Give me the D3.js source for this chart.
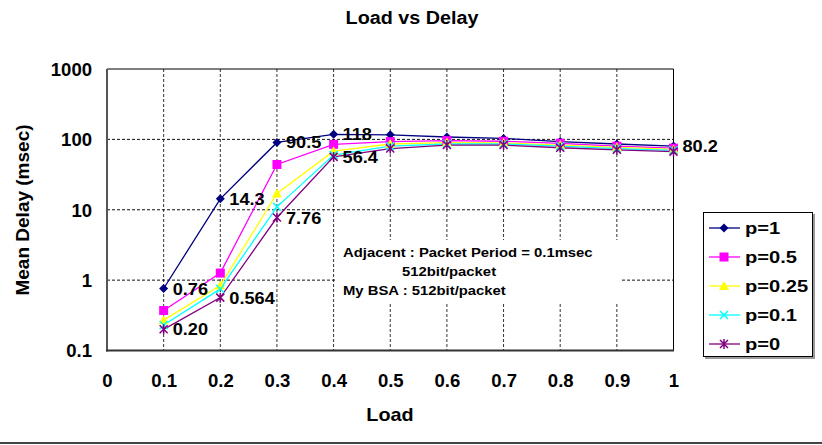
<!DOCTYPE html>
<html>
<head>
<meta charset="utf-8">
<script src="https://cdn.jsdelivr.net/npm/d3@7"></script>
<style>
  html, body { margin: 0; padding: 0; background: #fff; }
  svg { display: block; font-family: "Liberation Sans", Arial, sans-serif; font-weight: bold; }
</style>
</head>
<body>
<svg id="chart" width="822" height="445"></svg>
<script>
// Offered load on the x axis
const loads = [0.1, 0.2, 0.3, 0.4, 0.5, 0.6, 0.7, 0.8, 0.9, 1.0];

// Mean delay (msec) for each persistence probability
const delayP1   = [0.76, 14.3, 90.5, 118, 116, 108, 103, 93, 86, 80.2];
const delayP05  = [0.37, 1.26, 44, 85, 93, 96, 94, 88, 80, 75];
const delayP025 = [0.27, 0.84, 17, 68, 86, 90, 89, 83, 77, 72];
const delayP01  = [0.23, 0.75, 11, 60, 80, 86, 86, 80, 74, 70];
const delayP0   = [0.20, 0.564, 7.76, 56.4, 74, 83, 83, 76, 71, 67];

const seriesNames = ["p=1", "p=0.5", "p=0.25", "p=0.1", "p=0"];
const seriesColors = ["#000080", "#ff00ff", "#ffff00", "#00ffff", "#800080"];
const seriesMarkers = ["diamond", "square", "triangle", "x", "asterisk"];

const xTicks = [0, 0.1, 0.2, 0.3, 0.4, 0.5, 0.6, 0.7, 0.8, 0.9, 1];
const xTickLabels = ["0", "0.1", "0.2", "0.3", "0.4", "0.5", "0.6", "0.7", "0.8", "0.9", "1"];
const yTicks = [0.1, 1, 10, 100, 1000];
const yTickLabels = ["0.1", "1", "10", "100", "1000"];

// Value labels: [series index, point index, decimals]
const valueLabels = [
  [0, 0, 2], [0, 1, 1], [0, 2, 1], [0, 3, 0], [0, 9, 1],
  [4, 0, 2], [4, 1, 3], [4, 2, 2], [4, 3, 1]
];

const noteLines = [
  "Adjacent : Packet Period = 0.1msec",
  "512bit/packet",
  "My BSA : 512bit/packet"
];

const allSeries = [delayP1, delayP05, delayP025, delayP01, delayP0];

const svg = d3.select("#chart");
const plot = { left: 107, right: 673.5, top: 69, bottom: 350.5 };

const x = d3.scaleLinear().domain([0, 1]).range([plot.left, plot.right]);
const y = d3.scaleLog().domain([0.1, 1000]).range([plot.bottom, plot.top]);

function stretchedText(g, px, py, str, size, sx, anchor) {
  return g.append("text")
    .attr("transform", `translate(${px},${py}) scale(${sx},1)`)
    .attr("text-anchor", anchor || "start")
    .style("font-size", size + "px")
    .attr("fill", "#000")
    .text(str);
}

// Title
stretchedText(svg, 412, 24, "Load vs Delay", 17.5, 1.13, "middle");

// Grid lines
const grid = svg.append("g");
grid.selectAll("line.v").data(xTicks.filter(d => d > 0 && d < 1)).join("line")
  .attr("x1", d => x(d)).attr("x2", d => x(d))
  .attr("y1", plot.top).attr("y2", plot.bottom)
  .attr("stroke", "#333").attr("stroke-width", 1).attr("stroke-dasharray", "3,2");
grid.selectAll("line.h").data(yTicks.filter(d => d > 0.1 && d < 1000)).join("line")
  .attr("x1", plot.left).attr("x2", plot.right)
  .attr("y1", d => y(d)).attr("y2", d => y(d))
  .attr("stroke", "#111").attr("stroke-width", 1).attr("stroke-dasharray", "3,2");

// Top and right border
svg.append("path")
  .attr("d", `M${plot.left},${plot.top}H${plot.right}V${plot.bottom}`)
  .attr("fill", "none").attr("stroke", "#000").attr("stroke-width", 1);

// Note box covering the grid
svg.append("rect").attr("x", 336).attr("y", 240).attr("width", 284).attr("height", 62).attr("fill", "#fff");
const note = svg.append("g");
stretchedText(note, 343, 257, noteLines[0], 13.5, 1.1);
stretchedText(note, 402, 276, noteLines[1], 13.5, 1.1);
stretchedText(note, 343, 295, noteLines[2], 13.5, 1.1);

// Axes
const tickScale = 1.06;
const xAxis = d3.axisBottom(x).tickValues(xTicks).tickSize(0).tickPadding(0)
  .tickFormat((d, i) => xTickLabels[i]);
const gx = svg.append("g").attr("transform", `translate(0,${plot.bottom})`).call(xAxis);
gx.select(".domain").remove();
gx.selectAll("text").attr("y", 37).attr("dy", null)
  .attr("transform", `scale(${tickScale},1)`)
  .style("font-size", "17.5px").style("font-family", "Liberation Sans, Arial, sans-serif")
  .style("font-weight", "bold").attr("fill", "#000");

const yAxis = d3.axisLeft(y).tickValues(yTicks).tickSize(0).tickPadding(0)
  .tickFormat((d, i) => yTickLabels[i]);
const gy = svg.append("g").attr("transform", `translate(${plot.left},0)`).call(yAxis);
gy.select(".domain").remove();
gy.selectAll("text").attr("x", -15 / tickScale).attr("dy", "0.36em")
  .attr("transform", `scale(${tickScale},1)`)
  .style("font-size", "17.5px").style("font-family", "Liberation Sans, Arial, sans-serif")
  .style("font-weight", "bold").attr("fill", "#000");

svg.append("line").attr("x1", plot.left).attr("x2", plot.left)
  .attr("y1", plot.top).attr("y2", plot.bottom + 1)
  .attr("stroke", "#555").attr("stroke-width", 2);
svg.append("line").attr("x1", plot.left - 1).attr("x2", plot.right + 0.5)
  .attr("y1", plot.bottom).attr("y2", plot.bottom)
  .attr("stroke", "#333").attr("stroke-width", 2);

// Axis titles
stretchedText(svg, 390, 421, "Load", 18, 1.1, "middle");
svg.append("text")
  .attr("transform", `translate(29,210) rotate(-90)`)
  .attr("text-anchor", "middle")
  .style("font-size", "19px")
  .text("Mean Delay (msec)");

// Marker drawing
function drawMarker(g, type, color) {
  if (type === "diamond") {
    g.append("path").attr("d", "M0,-4.5L4.5,0L0,4.5L-4.5,0Z").attr("fill", color);
  } else if (type === "square") {
    g.append("rect").attr("x", -4.5).attr("y", -4.5).attr("width", 9).attr("height", 9).attr("fill", color);
  } else if (type === "triangle") {
    g.append("path").attr("d", "M0,-5L5,4L-5,4Z").attr("fill", color);
  } else if (type === "x") {
    g.append("path").attr("d", "M-4,-4L4,4M-4,4L4,-4").attr("stroke", color).attr("stroke-width", 1.5);
  } else {
    g.append("path").attr("d", "M-4,-4L4,4M-4,4L4,-4M0,-5L0,5").attr("stroke", color).attr("stroke-width", 1.5);
  }
}

// Series lines and markers
const line = d3.line().x((d, i) => x(loads[i])).y(d => y(d));
const seriesG = svg.append("g");
allSeries.forEach((vals, s) => {
  seriesG.append("path").datum(vals).attr("d", line)
    .attr("fill", "none").attr("stroke", seriesColors[s]).attr("stroke-width", 1.3);
});
allSeries.forEach((vals, s) => {
  vals.forEach((v, i) => {
    const g = seriesG.append("g").attr("transform", `translate(${x(loads[i])},${y(v)})`);
    drawMarker(g, seriesMarkers[s], seriesColors[s]);
  });
});

// Value labels
valueLabels.forEach(([s, i, dec]) => {
  const v = allSeries[s][i];
  stretchedText(svg, x(loads[i]) + 9, y(v) + 6, d3.format(`.${dec}f`)(v), 17, 1.07);
});

// Legend
const legend = svg.append("g");
legend.append("rect").attr("x", 705).attr("y", 214).attr("width", 110).attr("height", 145).attr("fill", "#999");
legend.append("rect").attr("x", 703.5).attr("y", 212.5).attr("width", 109).attr("height", 144)
  .attr("fill", "#fff").attr("stroke", "#000").attr("stroke-width", 1);
seriesNames.forEach((name, s) => {
  const ly = 228 + s * 29;
  legend.append("line").attr("x1", 709).attr("x2", 740).attr("y1", ly).attr("y2", ly)
    .attr("stroke", seriesColors[s]).attr("stroke-width", 1.3);
  drawMarker(legend.append("g").attr("transform", `translate(724,${ly})`), seriesMarkers[s], seriesColors[s]);
  stretchedText(legend, 745, ly + 6, name, 16.5, 1.22);
});

// Bottom rule
svg.append("line").attr("x1", 0).attr("x2", 822).attr("y1", 443).attr("y2", 443)
  .attr("stroke", "#444").attr("stroke-width", 2);
</script>
</body>
</html>
